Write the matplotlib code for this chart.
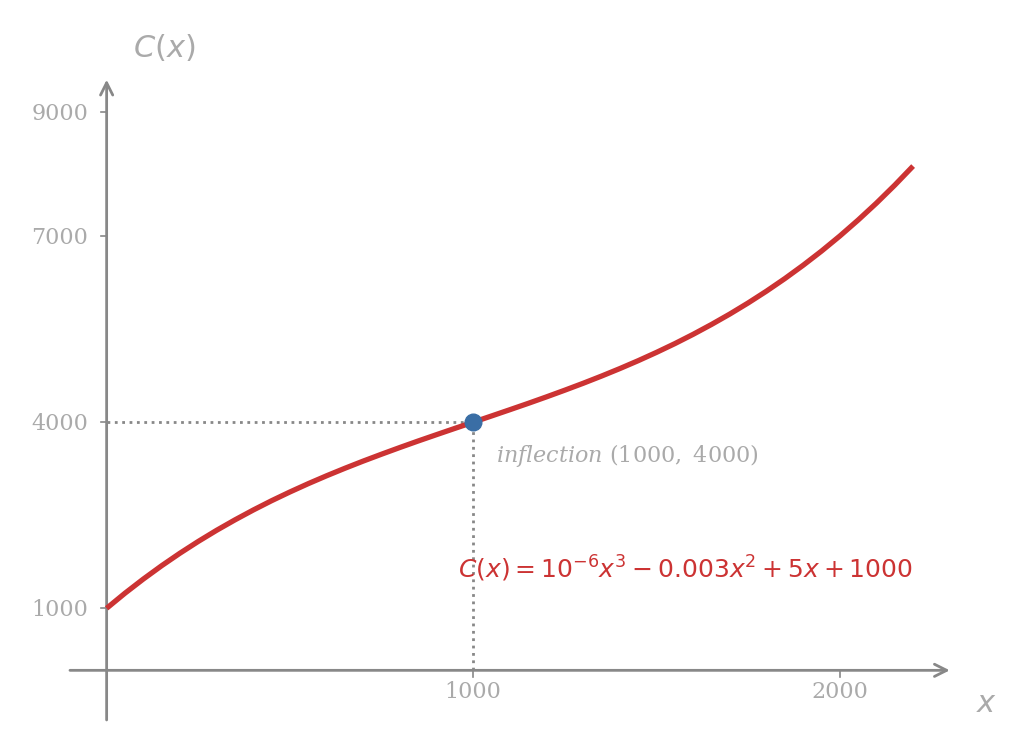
import matplotlib
matplotlib.use('Agg')
import matplotlib.pyplot as plt

# valores de C(x), cada 50 unidades
x_vals = [0, 50, 100, 150, 200, 250, 300, 350, 400, 450, 500, 550, 600, 650,
          700, 750, 800, 850, 900, 950, 1000, 1050, 1100, 1150, 1200, 1250,
          1300, 1350, 1400, 1450, 1500, 1550, 1600, 1650, 1700, 1750, 1800,
          1850, 1900, 1950, 2000, 2050, 2100, 2150, 2200]
c_vals = [1000, 1243, 1471, 1686, 1888, 2078, 2257, 2425, 2584, 2734, 2875, 3009,
          3136, 3257, 3373, 3484, 3592, 3697, 3799, 3900, 4000, 4100, 4201, 4303,
          4408, 4516, 4627, 4743, 4864, 4991, 5125, 5266, 5416, 5575, 5743, 5922,
          6112, 6314, 6529, 6757, 7000, 7258, 7531, 7821, 8128]

# punto de inflexion
x_inf = 1000
y_inf = 4000

x_ticks = [1000, 2000]
y_ticks = [1000, 4000, 7000, 9000]

gris = '#888888'
gris_claro = '#aaaaaa'
rojo = '#cc3333'
azul = '#3a6ea5'

fig = plt.figure(figsize=(10.29, 7.52), dpi=100)
ax = fig.add_axes([0.068, 0.0426, 0.855, 0.8514])
ax.set_xlim(-100, 2300)
ax.set_ylim(-800, 9520)

# ejes en el origen
for s in ['top', 'right', 'left', 'bottom']:
    ax.spines[s].set_visible(False)
ax.annotate('', xy=(2300, 0), xytext=(-100, 0),
            arrowprops=dict(arrowstyle='->', color=gris, lw=2, mutation_scale=22,
                            shrinkA=0, shrinkB=0))
ax.annotate('', xy=(0, 9520), xytext=(0, -800),
            arrowprops=dict(arrowstyle='->', color=gris, lw=2, mutation_scale=22,
                            shrinkA=0, shrinkB=0))

# lineas punteadas hacia el punto de inflexion
ax.plot([0, x_inf], [y_inf, y_inf], linestyle=':', color=gris, lw=2)
ax.plot([x_inf, x_inf], [0, y_inf], linestyle=':', color=gris, lw=2)

ax.plot(x_vals, c_vals, color=rojo, lw=3.8, solid_capstyle='butt',
        solid_joinstyle='round', zorder=3)
ax.plot([x_inf], [y_inf], 'o', color=azul, markersize=12, zorder=4)

# ticks manuales sobre los ejes
ax.set_xticks([])
ax.set_yticks([])
for t in x_ticks:
    ax.plot([t, t], [0, -100], color=gris, lw=1.2, clip_on=False)
    ax.text(t, -180, str(t), ha='center', va='top', fontsize=16,
            family='DejaVu Serif', color=gris_claro)
for t in y_ticks:
    ax.plot([-16, 0], [t, t], color=gris, lw=1.2, clip_on=False)
    ax.text(-50, t - 30, str(t), ha='right', va='center', fontsize=16,
            family='DejaVu Serif', color=gris_claro)

ax.text(158, 10040, r'$C(x)$', fontsize=22, color=gris_claro,
        ha='center', va='center', clip_on=False)
ax.text(2400, -530, r'$x$', fontsize=22, color=gris_claro,
        ha='center', va='center', clip_on=False)

ax.text(1062, 3470, r'$\mathit{inflection}\ (1000,\ 4000)$', fontsize=16,
        color=gris_claro, math_fontfamily='dejavuserif', ha='left', va='center')
ax.text(958, 1640, r'$C(x) = 10^{-6}x^3 - 0.003x^2 + 5x + 1000$', fontsize=18,
        color=rojo, ha='left', va='center')

fig.savefig('out.png', dpi=100)
